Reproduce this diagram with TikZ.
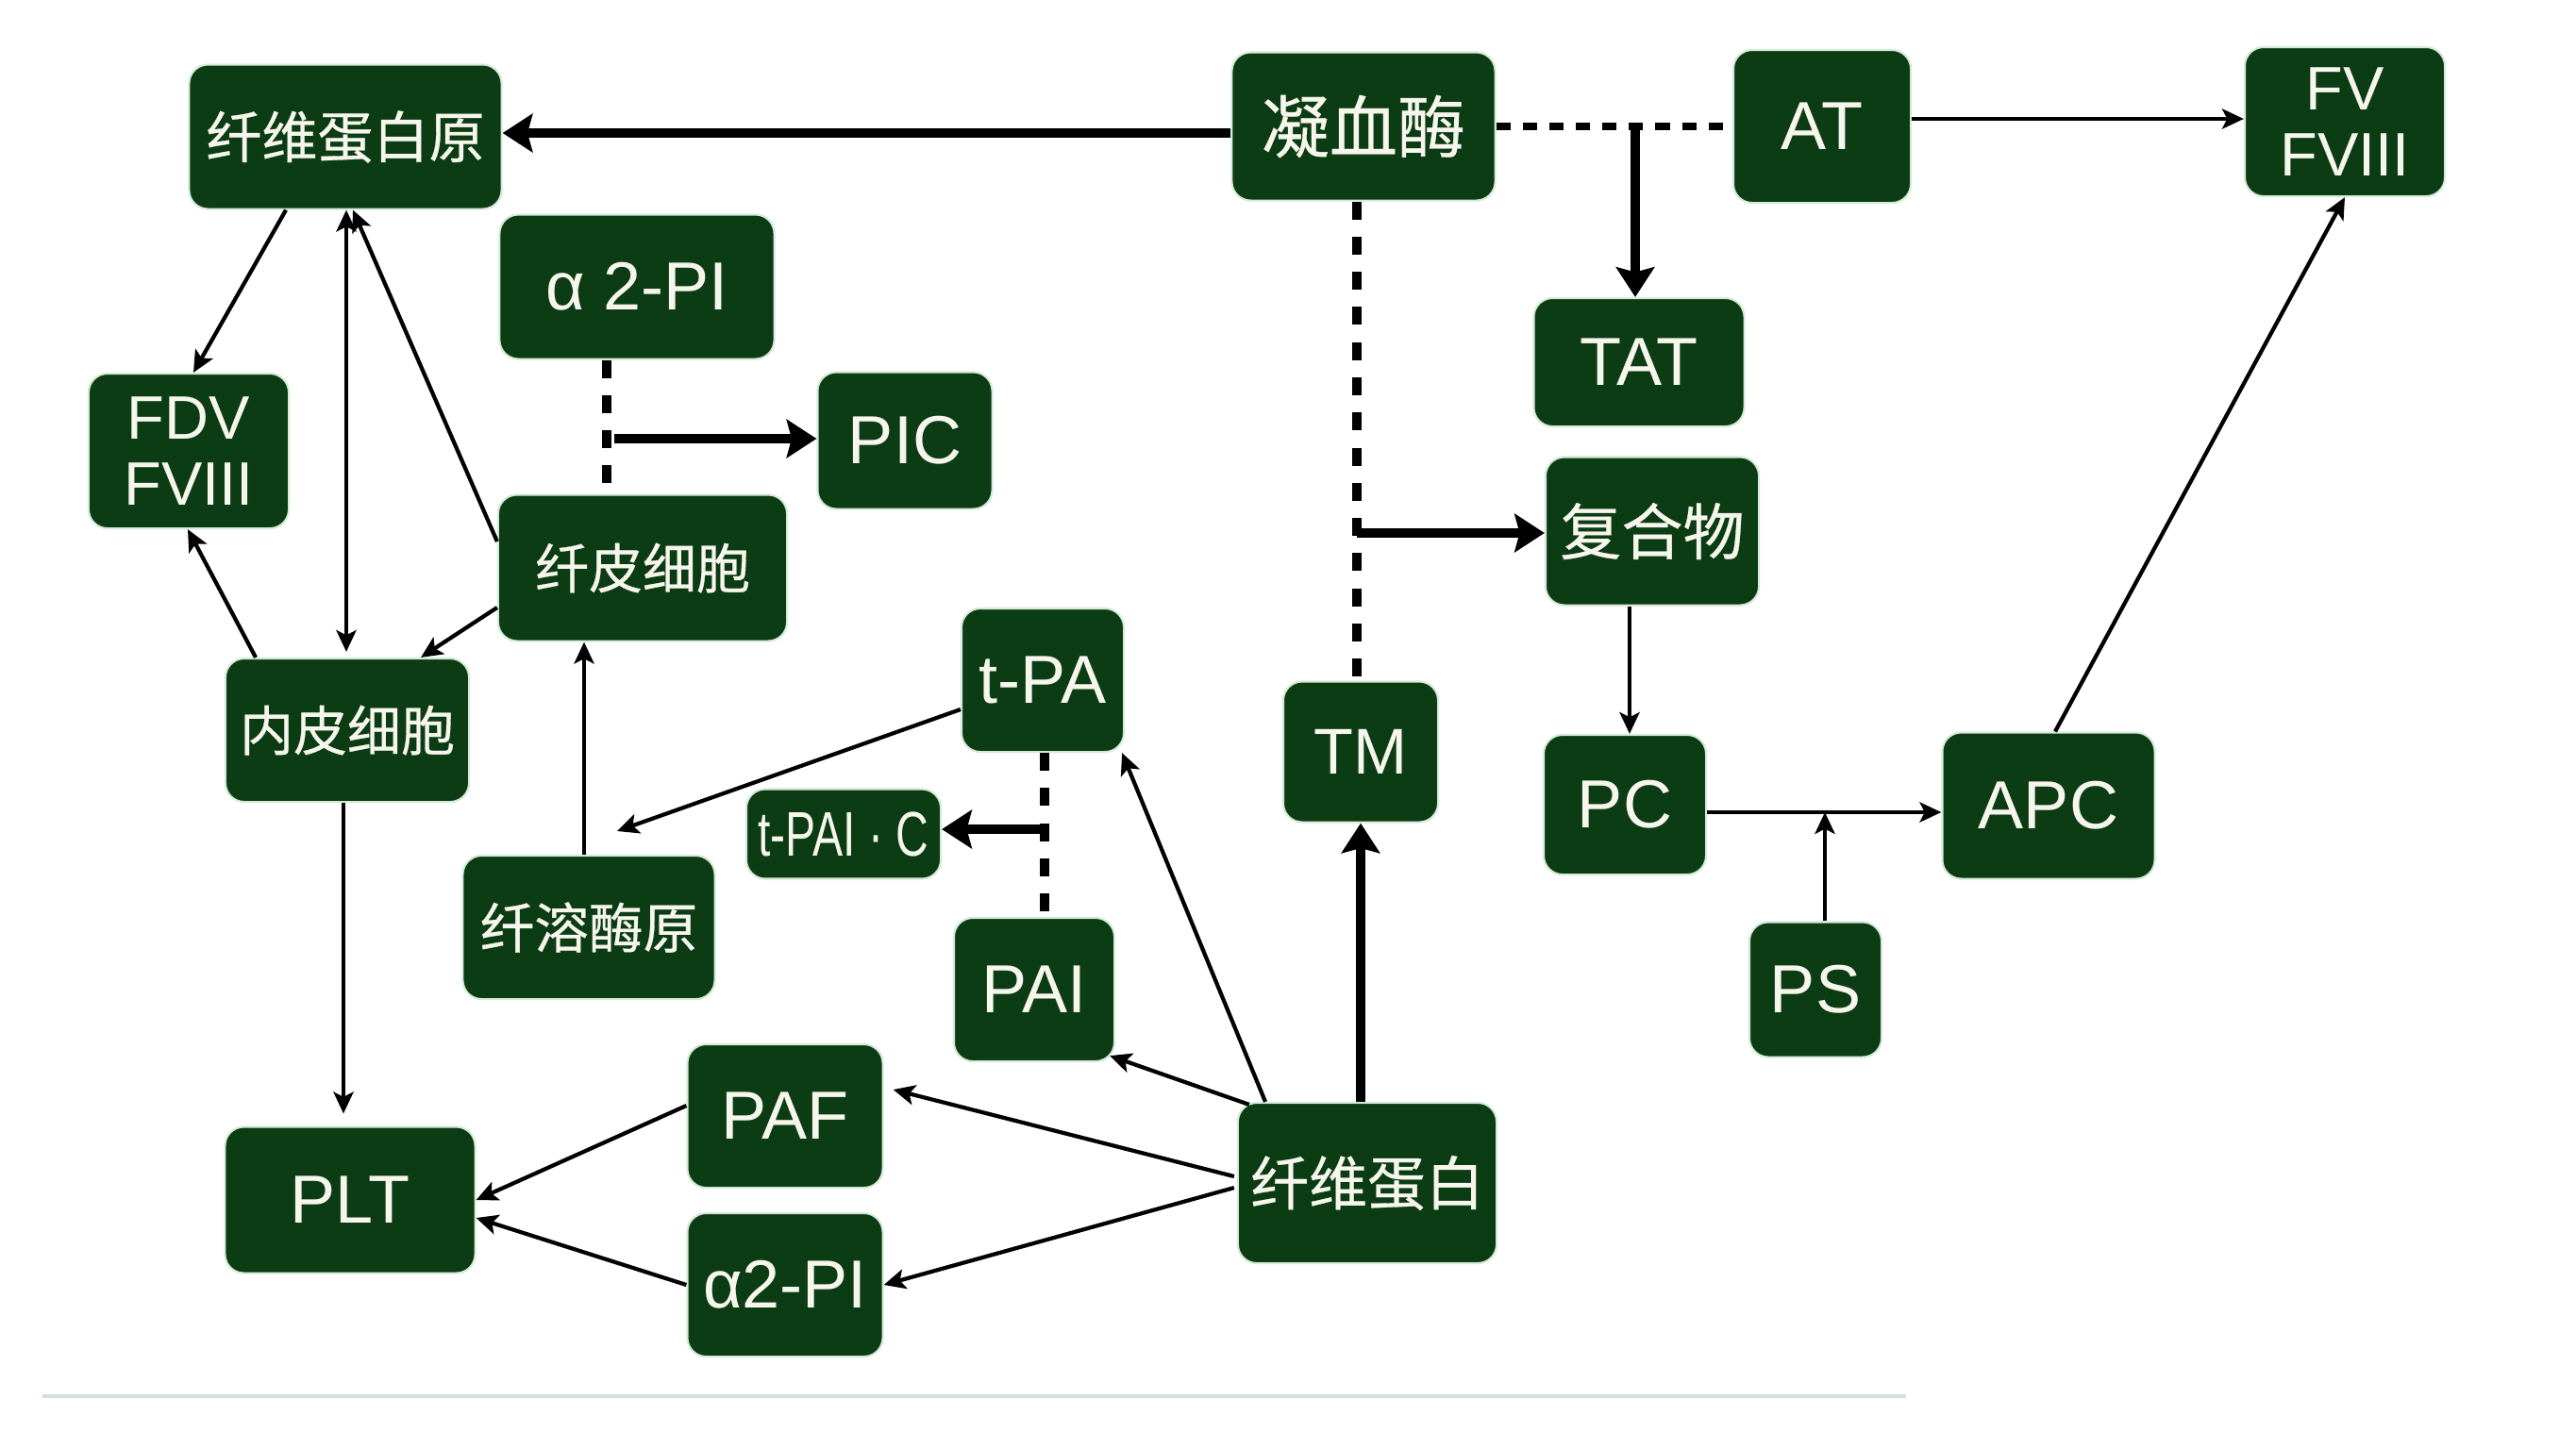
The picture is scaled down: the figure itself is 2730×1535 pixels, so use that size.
\documentclass[tikz,border=0pt]{standalone}
\usepackage{fontspec}
\setmainfont{Liberation Sans}
\newfontfamily\cjkfont[FakeBold=0.5]{Noto Sans CJK SC}
\usetikzlibrary{arrows.meta,calc}
\definecolor{boxgreen}{RGB}{12,60,20}
\definecolor{halo}{RGB}{214,234,216}
\definecolor{txtc}{RGB}{246,246,236}
\definecolor{rulec}{RGB}{212,224,214}
\begin{document}
\begin{tikzpicture}[x=0.01cm,y=-0.01cm,
 box/.style={rectangle,rounded corners=0.2cm,fill=boxgreen,draw=halo,line width=0.6pt,text=txtc,inner sep=0pt,align=center},
 lat/.style={font=\fontsize{20.5}{22}\selectfont},
 lattwo/.style={font=\fontsize{18.5}{19.7}\selectfont},
 zh/.style={font=\cjkfont\fontsize{#1}{#1}\selectfont},
 arr/.style={draw=black,line width=1.2pt,-{Stealth[length=6.5pt,width=6pt,inset=1.5pt]}},
 arrtwo/.style={draw=black,line width=1.2pt,{Stealth[length=6.5pt,width=6pt,inset=1.5pt]}-{Stealth[length=6.5pt,width=6pt,inset=1.5pt]}},
 tarr/.style={draw=black,line width=2.9pt,-{Stealth[length=9pt,width=11.5pt,inset=1.5pt]}},
 dline/.style={draw=black,line width=2.8pt,dash pattern=on 5.4pt off 5.2pt},
 hdline/.style={draw=black,line width=2.1pt,dash pattern=on 4.3pt off 3.7pt},
]
\useasboundingbox (0,0) rectangle (2730,1535);
\fill[white] (0,0) rectangle (2730,1535);

% nodes
\node[box,zh=16.8,minimum width=3.31cm,minimum height=1.53cm] (fbg) at (366,145) {纤维蛋白原};
\node[box,zh=20.5,minimum width=2.79cm,minimum height=1.57cm] (thr) at (1445,134) {凝血酶};
\node[box,lat,minimum width=1.88cm,minimum height=1.62cm] (AT) at (1931,134) {AT};
\node[box,lattwo,minimum width=2.12cm,minimum height=1.58cm] (fv) at (2485,129) {FV\\FVIII};
\node[box,lat,minimum width=2.91cm,minimum height=1.53cm] (a2top) at (675,304) {α 2-PI};
\node[box,lattwo,minimum width=2.12cm,minimum height=1.64cm] (fdv) at (200,478) {FDV\\FVIII};
\node[box,lat,minimum width=1.85cm,minimum height=1.45cm] (PIC) at (959,467) {PIC};
\node[box,lat,minimum width=2.23cm,minimum height=1.36cm] (TAT) at (1737,384) {TAT};
\node[box,zh=16.2,minimum width=3.06cm,minimum height=1.55cm] (xpc) at (681,602) {纤皮细胞};
\node[box,zh=18.5,minimum width=2.26cm,minimum height=1.57cm] (fhw) at (1751,563) {复合物};
\node[box,zh=16.2,minimum width=2.58cm,minimum height=1.52cm] (npc) at (368,774) {内皮细胞};
\node[box,lat,minimum width=1.72cm,minimum height=1.52cm] (tPA) at (1105,721) {t-PA};
\node[box,font=\fontsize{19.5}{21}\selectfont,minimum width=1.64cm,minimum height=1.49cm] (TM) at (1442,797) {TM};
\node[box,lat,minimum width=1.72cm,minimum height=1.48cm] (PC) at (1722,853) {PC};
\node[box,lat,minimum width=2.25cm,minimum height=1.55cm] (APC) at (2171,854) {APC};
\node[box,font=\fontsize{19}{20}\selectfont,minimum width=2.06cm,minimum height=0.95cm] (tpaic) at (894,884) {\scalebox{0.72}[1]{t-PAI · C}};
\node[box,zh=16.4,minimum width=2.67cm,minimum height=1.52cm] (xrm) at (624,983) {纤溶酶原};
\node[box,lat,minimum width=1.70cm,minimum height=1.52cm] (PAI) at (1096,1049) {PAI};
\node[box,lat,minimum width=1.40cm,minimum height=1.43cm] (PS) at (1924,1049) {PS};
\node[box,lat,minimum width=2.07cm,minimum height=1.52cm] (PAF) at (832,1183) {PAF};
\node[box,lat,minimum width=2.65cm,minimum height=1.55cm] (PLT) at (371,1272) {PLT};
\node[box,zh=17.6,minimum width=2.74cm,minimum height=1.70cm] (xwdb) at (1449,1254) {纤维蛋白};
\node[box,lat,minimum width=2.07cm,minimum height=1.52cm] (a2bot) at (832,1362) {α2-PI};

% coordinates for junctions
\coordinate (j1) at (1733,134);
\coordinate (j2) at (1438,565);
\coordinate (j3) at (643,465);
\coordinate (j4) at (1107,879);
\coordinate (pAT) at ($(AT.east)+(0,-8)$);
\coordinate (pPC) at (1700,861);
\coordinate (pPS) at (1934,861);
\coordinate (cfhw) at (1727,700);
\coordinate (cdbl) at (367,400);
\coordinate (cnp) at (364,1000);
\coordinate (cxrm) at (619,800);
\coordinate (tpe) at (654,881);
\coordinate (pthr) at ($(thr.west)+(0,7)$);

% thick / dashed connectors
\draw[tarr] (pthr) -- (pthr -| fbg.east);
\draw[hdline] (thr.east) -- (AT.west);
\draw[tarr] (j1) -- (j1 |- TAT.north);
\draw[dline] (j2 |- thr.south) -- (j2 |- TM.north);
\draw[tarr] (j2) -- (j2 -| fhw.west);
\draw[tarr] (TM.south |- xwdb.north) -- (TM.south);
\draw[dline] (j3 |- a2top.south) -- (j3 |- xpc.north);
\draw[tarr,shorten <=0.08cm] (j3) -- (j3 -| PIC.west);
\draw[dline] (j4 |- tPA.south) -- (j4 |- PAI.north);
\draw[tarr] (j4) -- (j4 -| tpaic.east);

% thin connectors right
\draw[arr] (pAT) -- (pAT -| fv.west);
\draw[arr] (cfhw |- fhw.south) -- (cfhw |- PC.north);
\draw[arr] (pPC -| PC.east) -- (pPC -| APC.west);
\draw[arr] (pPS |- PS.north) -- (pPS);
\draw[arr] ($(APC.north)+(7,0)$) -- (fv.south);

% thin connectors left
\draw[arr] ($(fbg.south)+(-63,0)$) -- ($(fdv.north)+(5,0)$);
\draw[arrtwo,shorten >=0.06cm] (cdbl |- fbg.south) -- (cdbl |- npc.north);
\draw[arr] ($(xpc.west)+(0,-28)$) -- ($(fbg.south)+(8,0)$);
\draw[arr] ($(xpc.west)+(0,42)$) -- ($(npc.north)+(78,0)$);
\draw[arr] ($(npc.north)+(-97,0)$) -- ($(fdv.south)+(-1,0)$);
\draw[arr,shorten >=0.13cm] (cnp |- npc.south) -- (cnp |- PLT.north);
\draw[arr] (cxrm |- xrm.north) -- (cxrm |- xpc.south);
\draw[arr] ($(tPA.west)+(0,31)$) -- (tpe);

% from fibrin
\draw[arr] ($(xwdb.north)+(-108,0)$) -- ($(tPA.south east)+(-3,0)$);
\draw[arr] ($(xwdb.north west)+(13,3)$) -- ($(PAI.south east)+(-6,-7)$);
\draw[arr] ($(xwdb.west)+(-3,-7)$) -- ($(PAF.east)+(10,-28)$);
\draw[arr] ($(xwdb.west)+(-3,5)$) -- (a2bot.east);
\draw[arr] ($(PAF.west)+(0,-11)$) -- (PLT.east);
\draw[arr] (a2bot.west) -- ($(PLT.east)+(0,19)$);

% bottom rule
\draw[rulec,line width=0.04cm] (45,1480) -- (2020,1480);
\end{tikzpicture}
\end{document}
